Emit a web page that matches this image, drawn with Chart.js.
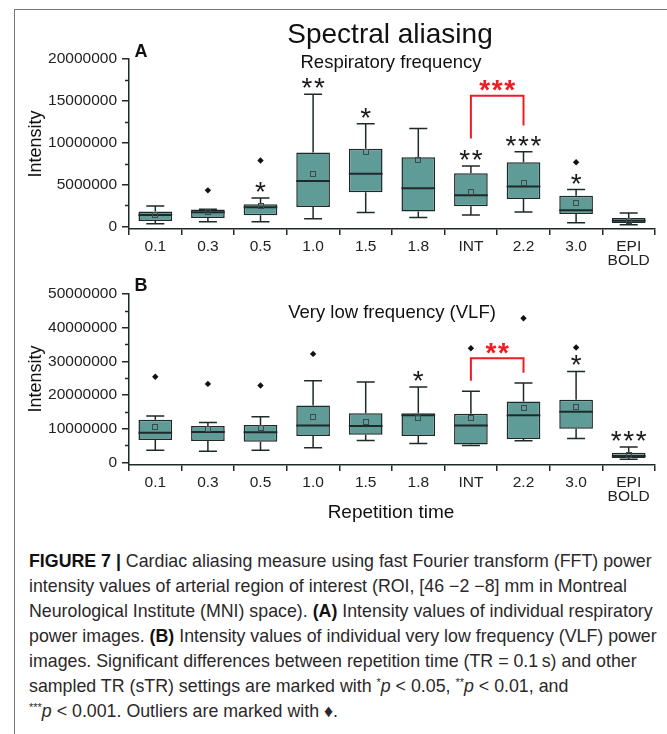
<!DOCTYPE html>
<html>
<head>
<meta charset="utf-8">
<script src="https://cdn.jsdelivr.net/npm/chart.js@4.4.0/dist/chart.umd.min.js"></script>
<style>
  html, body { margin: 0; padding: 0; background: #fff; width: 667px; height: 734px; overflow: hidden; }
  #frame { position: absolute; left: 14px; top: 9px; width: 720px; height: 780px; border-left: 1px solid #777; border-top: 1px solid #777; }
  #chart-a { position: absolute; left: 0; top: 0; }
  #chart-b { position: absolute; left: 0; top: 270px; }
  #caption { position: absolute; left: 29px; top: 549px; font: 17.8px/25px 'Liberation Sans', Arial, sans-serif; color: #2b2829; white-space: nowrap; }
  #caption b { color: #111; }
  #caption sup { font-size: 11px; line-height: 0; vertical-align: 6px; }
</style>
</head>
<body>
<div id="frame"></div>
<canvas id="chart-a" width="667" height="270"></canvas>
<canvas id="chart-b" width="667" height="262"></canvas>
<div id="caption">
<b>FIGURE 7 |</b> Cardiac aliasing measure using fast Fourier transform (FFT) power<br>
intensity values of arterial region of interest (ROI, [46 &minus;2 &minus;8] mm in Montreal<br>
Neurological Institute (MNI) space). <b>(A)</b> Intensity values of individual respiratory<br>
power images. <b>(B)</b> Intensity values of individual very low frequency (VLF) power<br>
images. Significant differences between repetition time (TR = 0.1&#8201;s) and other<br>
sampled TR (sTR) settings are marked with <sup>*</sup><i>p</i> &lt; 0.05, <sup>**</sup><i>p</i> &lt; 0.01, and<br>
<sup>***</sup><i>p</i> &lt; 0.001. Outliers are marked with &#9830;.
</div>
<script>
// ===== DATOS =====
const categories = ['0.1', '0.3', '0.5', '1.0', '1.5', '1.8', 'INT', '2.2', '3.0', ['EPI', 'BOLD']];

// A: respiratory frequency
const respMin = [320000, 560000, 560000, 920000, 1640000, 1040000, 1360000, 1720000, 440000, 200000];
const respQ1 = [640000, 1000000, 1320000, 2320000, 4070000, 1760000, 2390000, 3280000, 1480000, 400000];
const respMedian = [1360000, 1680000, 2270000, 5430000, 6270000, 4550000, 3710000, 4750000, 1910000, 680000];
const respQ3 = [1760000, 2000000, 2630000, 8820000, 9260000, 8250000, 6340000, 7660000, 3640000, 1000000];
const respMax = [2440000, 2050000, 3400000, 15800000, 12250000, 11700000, 7220000, 8900000, 4390000, 1600000];
const respMean = [1300000, 1680000, 2480000, 6270000, 8850000, 7940000, 4110000, 5190000, 2800000, 680000];
const respOutliers = [null, 4300000, 7860000, null, null, null, null, null, 7660000, null];
const respStars = ['', '', '*', '**', '*', '', '**', '***', '*', ''];
const respTicks = [0, 5000000, 10000000, 15000000, 20000000];
const respBracket = { from: 6, to: 7, top: 15600000, legs: [10500000, 12050000], label: '***' };

// B: very low frequency
const vlfMin = [3550000, 3250000, 3600000, 4350000, 6500000, 5600000, 5000000, 6400000, 7100000, 900000];
const vlfQ1 = [6600000, 6300000, 6100000, 7800000, 8200000, 7800000, 5300000, 6900000, 10000000, 1300000];
const vlfMedian = [8800000, 9000000, 8900000, 10900000, 10800000, 14000000, 10900000, 14000000, 15000000, 1900000];
const vlfQ3 = [12660000, 10800000, 11100000, 16900000, 14600000, 14600000, 14400000, 18100000, 18600000, 2850000];
const vlfMax = [13750000, 11800000, 13500000, 24200000, 23850000, 22400000, 21100000, 23550000, 27000000, 4550000];
const vlfMean = [10400000, 9800000, 10100000, 13450000, 12100000, 13050000, 13150000, 16200000, 16300000, 2200000];
const vlfOutliers = [25400000, 23300000, 22800000, 32200000, null, null, 33900000, 42800000, 34100000, null];
const vlfStars = ['', '', '', '', '', '*', '', '', '*', '***'];
const vlfTicks = [0, 10000000, 20000000, 30000000, 40000000, 50000000];
const vlfBracket = { from: 6, to: 7, top: 30900000, legs: [24200000, 26600000], label: '**' };

// ===== ESTILO =====
const FONT = "'Liberation Sans', Arial, sans-serif";
const boxFill = '#5f9b97';
const lineColor = '#1e2a29';
const red = '#ee1d23';

function drawStars(ctx, text, cx, cy, color, weight) {
    ctx.font = weight + ' 28px ' + FONT;
    ctx.fillStyle = color;
    ctx.textAlign = 'center';
    ctx.textBaseline = 'alphabetic';
    const m = ctx.measureText('*');
    const base = cy + (m.actualBoundingBoxAscent - m.actualBoundingBoxDescent) / 2;
    const n = text.length;
    for (let k = 0; k < n; k++) {
        ctx.fillText('*', cx + (k - (n - 1) / 2) * 12.5, base);
    }
}

function boxPlugin(p) {
    return {
        id: 'boxExtras',
        afterDatasetsDraw(chart) {
            const { ctx, scales: { x, y } } = chart;
            const half = chart.getDatasetMeta(0).data[0].width / 2;
            ctx.save();
            ctx.strokeStyle = lineColor;
            ctx.lineWidth = 1.5;

            // ticks menores
            for (let i = 0; i < p.ticks.length - 1; i++) {
                const py = Math.round(y.getPixelForValue((p.ticks[i] + p.ticks[i + 1]) / 2)) + 0.5;
                ctx.beginPath();
                ctx.moveTo(x.left - 4, py);
                ctx.lineTo(x.left, py);
                ctx.stroke();
            }

            p.min.forEach((lo, i) => {
                const cx = x.getPixelForValue(i);
                const yMin = y.getPixelForValue(lo);
                const yMax = y.getPixelForValue(p.max[i]);
                const yQ1 = y.getPixelForValue(p.q1[i]);
                const yQ3 = y.getPixelForValue(p.q3[i]);
                const yMed = y.getPixelForValue(p.median[i]);
                const yMean = y.getPixelForValue(p.mean[i]);

                ctx.lineWidth = 1.5;
                ctx.strokeStyle = lineColor;
                ctx.beginPath();
                ctx.moveTo(cx, yQ3); ctx.lineTo(cx, yMax);
                ctx.moveTo(cx - 9, yMax); ctx.lineTo(cx + 9, yMax);
                ctx.moveTo(cx, yQ1); ctx.lineTo(cx, yMin);
                ctx.moveTo(cx - 9, yMin); ctx.lineTo(cx + 9, yMin);
                ctx.stroke();

                ctx.lineWidth = 2;
                ctx.beginPath();
                ctx.moveTo(cx - half, yMed); ctx.lineTo(cx + half, yMed);
                ctx.stroke();

                ctx.lineWidth = 1;
                ctx.strokeStyle = '#3d4a49';
                ctx.strokeRect(Math.round(cx) - 2.5, Math.round(yMean) - 2.5, 5, 5);

                if (p.stars[i]) drawStars(ctx, p.stars[i], cx, yMax - 11, '#1a1a1a', 'normal');
            });

            // corchete rojo
            const b = p.bracket;
            const bx1 = x.getPixelForValue(b.from);
            const bx2 = x.getPixelForValue(b.to);
            const byTop = y.getPixelForValue(b.top);
            ctx.strokeStyle = red;
            ctx.lineWidth = 2;
            ctx.beginPath();
            ctx.moveTo(bx1, y.getPixelForValue(b.legs[0]));
            ctx.lineTo(bx1, byTop);
            ctx.lineTo(bx2, byTop);
            ctx.lineTo(bx2, y.getPixelForValue(b.legs[1]));
            ctx.stroke();
            drawStars(ctx, b.label, (bx1 + bx2) / 2, byTop - 10, red, 'bold');
            ctx.restore();
        },
        afterDraw(chart) {
            const { ctx } = chart;
            ctx.save();
            ctx.fillStyle = '#111';
            ctx.textAlign = 'center';
            ctx.textBaseline = 'middle';
            p.texts.forEach(t => {
                ctx.font = t.font + ' ' + FONT;
                if (t.rotate) {
                    ctx.save();
                    ctx.translate(t.x, t.y);
                    ctx.rotate(-Math.PI / 2);
                    ctx.fillText(t.text, 0, 0);
                    ctx.restore();
                } else {
                    ctx.fillText(t.text, t.x, t.y);
                }
            });
            ctx.restore();
        }
    };
}

function makeChart(canvasId, p) {
    return new Chart(document.getElementById(canvasId), {
        type: 'bar',
        data: {
            labels: categories,
            datasets: [
                {
                    data: p.q1.map((q, i) => [q, p.q3[i]]),
                    backgroundColor: boxFill,
                    borderColor: lineColor,
                    borderWidth: 1.5,
                    borderSkipped: false,
                    barPercentage: 0.8,
                    categoryPercentage: 0.8
                },
                {
                    type: 'line',
                    data: p.outliers,
                    showLine: false,
                    pointStyle: 'rectRot',
                    pointRadius: 3.2,
                    pointBackgroundColor: '#111',
                    pointBorderColor: '#111',
                    pointBorderWidth: 0
                }
            ]
        },
        options: {
            responsive: false,
            animation: false,
            layout: { padding: { top: p.top, right: 12, left: 0, bottom: 0 } },
            plugins: { legend: { display: false }, tooltip: { enabled: false }, title: { display: false } },
            scales: {
                x: {
                    offset: true,
                    afterFit: s => { s.height = p.xHeight; },
                    grid: { display: true, drawOnChartArea: false, drawTicks: true, tickLength: 6, color: lineColor, lineWidth: 1.5 },
                    border: { display: true, color: lineColor, width: 1.5 },
                    ticks: { color: '#222', padding: 5, maxRotation: 0, autoSkip: false, font: { family: FONT, size: 15.5, lineHeight: 0.9 } }
                },
                y: {
                    min: p.yMin,
                    max: p.ticks[p.ticks.length - 1],
                    afterFit: s => { s.width = 129; },
                    afterBuildTicks: s => { s.ticks = p.ticks.map(v => ({ value: v })); },
                    grid: { display: true, drawOnChartArea: false, drawTicks: true, tickLength: 7, color: lineColor, lineWidth: 1.5 },
                    border: { display: true, color: lineColor, width: 1.5 },
                    ticks: { color: '#222', padding: 5, callback: v => String(v), font: { family: FONT, size: 15.5 } }
                }
            }
        },
        plugins: [boxPlugin(p)]
    });
}

makeChart('chart-a', {
    min: respMin, q1: respQ1, median: respMedian, q3: respQ3, max: respMax, mean: respMean,
    outliers: respOutliers, stars: respStars, ticks: respTicks, bracket: respBracket,
    yMin: -320000, top: 59, xHeight: 41,
    texts: [
        { text: 'Spectral aliasing', x: 390, y: 35, font: '28px' },
        { text: 'Respiratory frequency', x: 391, y: 63, font: '18.5px' },
        { text: 'A', x: 141, y: 52, font: 'bold 18px' },
        { text: 'Intensity', x: 36, y: 144, font: '18px', rotate: true }
    ]
});

makeChart('chart-b', {
    min: vlfMin, q1: vlfQ1, median: vlfMedian, q3: vlfQ3, max: vlfMax, mean: vlfMean,
    outliers: vlfOutliers, stars: vlfStars, ticks: vlfTicks, bracket: vlfBracket,
    yMin: -800000, top: 24, xHeight: 67,
    texts: [
        { text: 'Very low frequency (VLF)', x: 392, y: 43, font: '18.5px' },
        { text: 'B', x: 141, y: 16, font: 'bold 18px' },
        { text: 'Intensity', x: 36, y: 109, font: '18px', rotate: true },
        { text: 'Repetition time', x: 391, y: 243, font: '19px' }
    ]
});
</script>
</body>
</html>
